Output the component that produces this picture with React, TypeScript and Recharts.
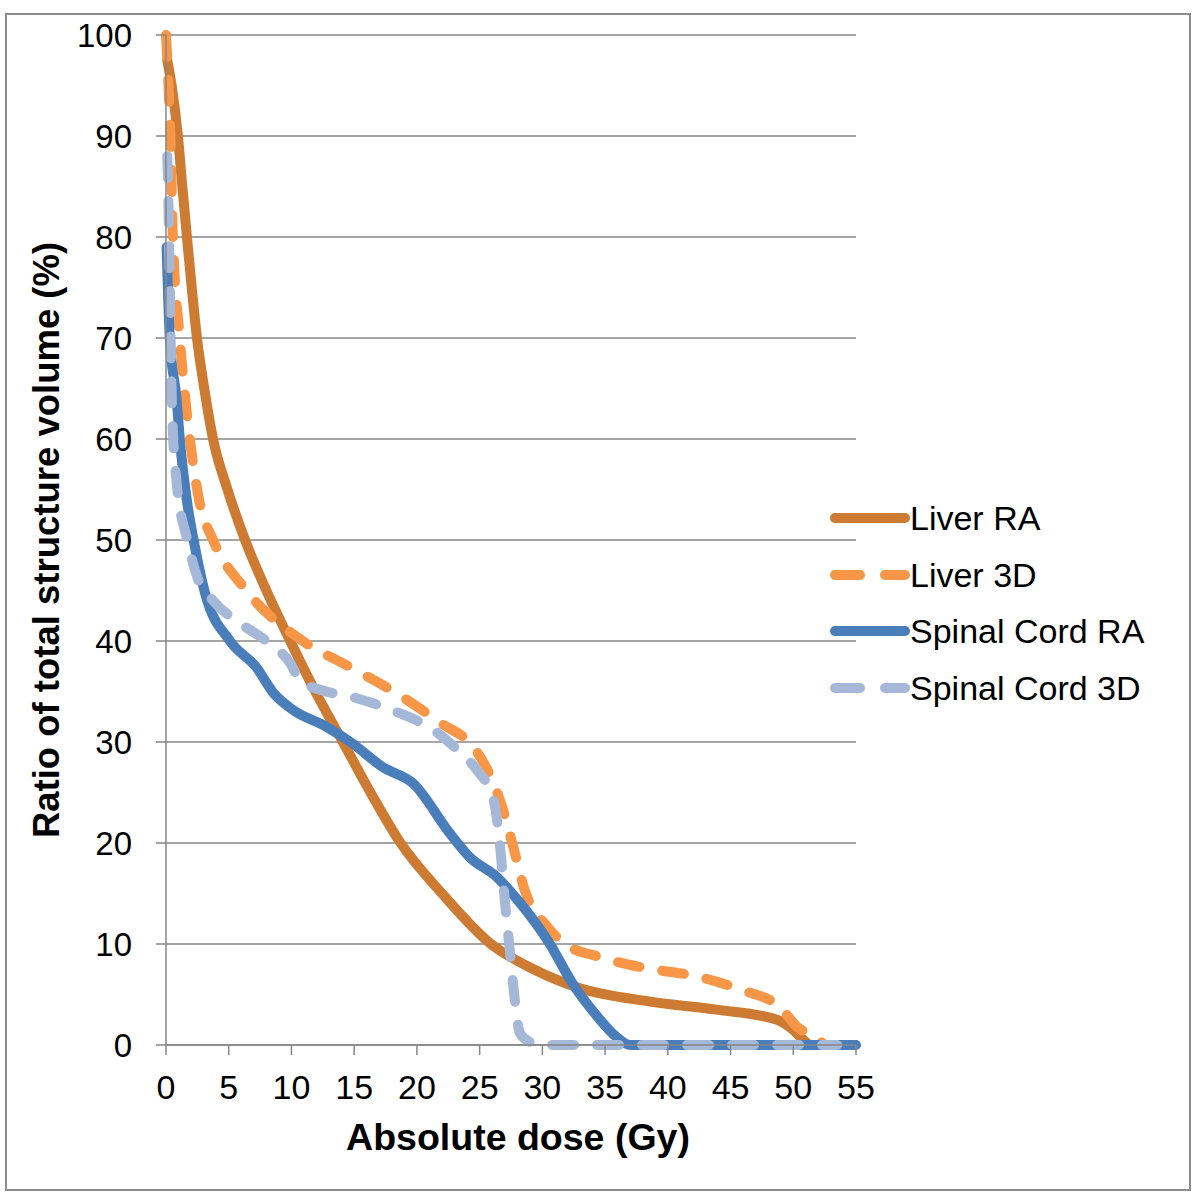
import React from "react";
import { LineChart, Line, XAxis, YAxis, CartesianGrid, Legend, Label } from "recharts";

// dose (Gy) vs ratio of structure volume (%)
const liverRaDose = [0.1, 0.45, 0.95, 1.3, 1.67, 2.05, 2.47, 3.05, 3.75, 4.9, 6.3, 8.0, 9.9, 11.9, 14.1, 16.3, 18.7, 22.0, 25.9, 29.3, 32.8, 38.6, 43.9, 48.7, 50.0, 50.8, 51.4, 52.0];
const liverRaVol = [97.5, 95, 90, 85, 80, 75, 70, 65, 60, 55, 50, 45, 40, 35, 30, 25, 20, 15, 10, 7.5, 5.7, 4.3, 3.5, 2.5, 1.5, 0.5, 0, 0];

const liver3dDose = [0, 0.2, 0.35, 0.55, 1.1, 1.9, 2.7, 3.75, 6.4, 10.9, 14.7, 18.4, 22.0, 24.5, 25.6, 26.6, 27.6, 28.6, 30.4, 31.7, 34.6, 38.3, 42.3, 46.0, 48.9, 50.3, 51.9, 52.6, 53.0];
const liver3dVol = [100, 95, 90, 80, 70, 60, 53.6, 50, 45, 40, 37.4, 34.8, 31.8, 29.5, 27.3, 24.3, 20, 15.3, 11.7, 10.1, 8.7, 7.6, 6.8, 5.4, 3.8, 1.8, 0.7, 0, 0];

const cordRaDose = [0.05, 0.3, 0.85, 1.1, 1.7, 2.2, 3.1, 5.1, 7.2, 8.6, 10.1, 12.8, 14.7, 17.3, 19.7, 22.6, 24.2, 26.4, 28.0, 30.6, 32.4, 34.4, 35.9, 37.0, 55];
const cordRaVol = [79, 70, 63.9, 60, 53.6, 50, 44.8, 40, 37.4, 34.8, 33.2, 31.5, 30, 27.5, 25.9, 21, 18.6, 16.6, 14.4, 10, 6.1, 2.8, 0.8, 0, 0];

const cord3dDose = [0.1, 0.15, 0.3, 0.5, 0.85, 1.7, 2.5, 3.75, 5.6, 8.0, 9.9, 10.7, 12.5, 14.7, 17.9, 21.3, 23.5, 24.8, 26.1, 26.6, 27.0, 27.4, 27.8, 28.2, 29.0, 30.0, 53.5];
const cord3dVol = [88, 86, 75, 62.3, 55.7, 50, 46.3, 44, 42, 40, 37.8, 36.1, 35.1, 34.5, 33.2, 31.2, 28.9, 27.2, 24.3, 20, 14.4, 9.4, 4.5, 1.2, 0.3, 0, 0];

const xTicks = [0, 5, 10, 15, 20, 25, 30, 35, 40, 45, 50, 55];
const yTicks = [0, 10, 20, 30, 40, 50, 60, 70, 80, 90, 100];

const toPoints = (dose: number[], vol: number[]) => dose.map((d, i) => ({ d, v: vol[i] }));

const series = [
  { name: "Liver RA", data: toPoints(liverRaDose, liverRaVol), color: "#CD7A32", dash: undefined },
  { name: "Liver 3D", data: toPoints(liver3dDose, liver3dVol), color: "#F79646", dash: "22 23" },
  { name: "Spinal Cord RA", data: toPoints(cordRaDose, cordRaVol), color: "#4A7EBB", dash: undefined },
  { name: "Spinal Cord 3D", data: toPoints(cord3dDose, cord3dVol), color: "#A5B8D7", dash: "22 23" },
];

const font = "'Liberation Sans', Arial, sans-serif";
const grey = "#878787";

const renderLegend = () => (
  <div style={{ fontFamily: font, fontSize: 34, color: "#000" }}>
    {series.map((s) => (
      <div key={s.name} style={{ display: "flex", alignItems: "center", height: 56.5 }}>
        <svg width={80} height={20} style={{ display: "block" }}>
          <line
            x1={5}
            y1={10}
            x2={75}
            y2={10}
            stroke={s.color}
            strokeWidth={10}
            strokeLinecap="round"
            strokeDasharray={s.dash ? "25 25" : undefined}
          />
        </svg>
        <span style={{ whiteSpace: "nowrap", lineHeight: 1 }}>{s.name}</span>
      </div>
    ))}
  </div>
);

export default function App() {
  return (
    <div style={{ position: "absolute", left: 0, top: 0, width: 1200, height: 1203, background: "#fff" }}>
      <div
        style={{
          position: "absolute",
          left: 5,
          top: 13,
          width: 1186,
          height: 1178,
          border: "2px solid #8c8c8c",
          boxSizing: "border-box",
        }}
      />
      <LineChart
        width={1200}
        height={1203}
        margin={{ top: 35, left: 165, right: 344, bottom: 157 }}
        style={{ position: "absolute", left: 0, top: 0 }}
      >
        <CartesianGrid vertical={false} stroke={grey} strokeWidth={1.5} />
        <XAxis
          dataKey="d"
          type="number"
          domain={[0, 55]}
          ticks={xTicks}
          height={1}
          allowDuplicatedCategory={false}
          stroke={grey}
          strokeWidth={1.5}
          tickSize={10}
          tickMargin={20}
          tick={{ fontSize: 34, fill: "#000", fontFamily: font }}
        >
          <Label
            content={() => (
              <text x={518} y={1150} textAnchor="middle" fontFamily={font} fontSize={37.5} fontWeight="bold" fill="#000">
                Absolute dose (Gy)
              </text>
            )}
          />
        </XAxis>
        <YAxis
          dataKey="v"
          type="number"
          domain={[0, 100]}
          ticks={yTicks}
          width={1}
          stroke={grey}
          strokeWidth={1.5}
          tickSize={10}
          tickMargin={24}
          tick={{ fontSize: 33, fill: "#000", fontFamily: font }}
        >
          <Label
            content={() => (
              <text
                x={59}
                y={540}
                transform="rotate(-90 59 540)"
                textAnchor="middle"
                fontFamily={font}
                fontSize={36.5}
                fontWeight="bold"
                fill="#000"
              >
                Ratio of total structure volume (%)
              </text>
            )}
          />
        </YAxis>
        <Legend
          layout="horizontal"
          verticalAlign="middle"
          align="center"
          content={renderLegend}
          wrapperStyle={{ left: 830, top: 490, width: 360 }}
        />
        {series.map((s) => (
          <Line
            key={s.name}
            name={s.name}
            data={s.data}
            dataKey="v"
            type="monotone"
            stroke={s.color}
            strokeWidth={10}
            strokeDasharray={s.dash}
            strokeLinecap="round"
            strokeLinejoin="round"
            dot={false}
            activeDot={false}
            isAnimationActive={false}
          />
        ))}
      </LineChart>
    </div>
  );
}
